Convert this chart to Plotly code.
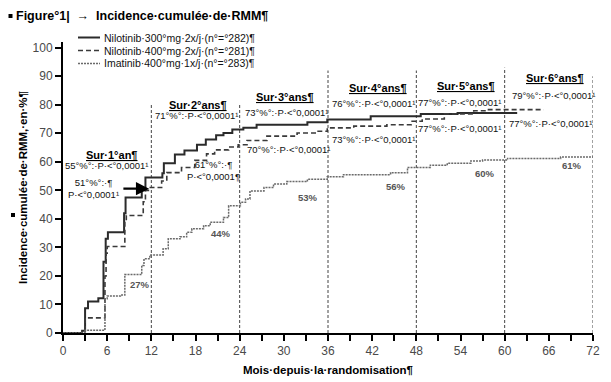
import plotly.graph_objects as go

# ---------------- data ----------------
series_names = [
    "Nilotinib·300°mg·2x/j·(n°=°282)¶",
    "Nilotinib·400°mg·2x/j·(n°=°281)¶",
    "Imatinib·400°mg·1x/j·(n°=°283)¶",
]

nil300_months = [0, 2.6, 3.0, 3.4, 4.8, 5.5, 5.8, 6.1, 8.3, 8.5, 10.7, 11.2, 13.5, 13.7, 15.2,
                 16.5, 18.2, 19.4, 20.8, 21.8, 23.0, 24.5, 26.3, 33.2, 35.9, 41.8, 48.6, 53.6, 61.7]
nil300_pct = [0, 0.8, 8.7, 11.0, 12.2, 25.0, 33.0, 35.3, 42.0, 47.5, 50.0, 54.5, 56.0, 59.5, 62.6,
              64.0, 66.0, 67.8, 69.3, 70.1, 71.3, 71.9, 73.0, 73.9, 74.8, 76.0, 76.8, 77.1, 77.1]

nil400_months = [0, 2.6, 3.0, 5.7, 5.85, 6.0, 8.4, 8.6, 10.9, 11.2, 11.6, 13.4, 14.1, 16.1, 17.9,
                 19.5, 20.6, 22.5, 23.8, 25.0, 27.7, 31.8, 34.5, 35.9, 39.5, 44.0, 47.3, 48.8, 51.8,
                 55.8, 57.8, 65.3]
nil400_pct = [0, 0.5, 5.3, 20.0, 28.0, 30.3, 39.5, 41.2, 46.0, 50.0, 51.0, 53.3, 56.2, 58.0, 60.5,
              62.8, 64.2, 65.2, 66.0, 67.5, 69.0, 70.1, 70.7, 71.9, 72.5, 73.0, 74.2, 75.0, 76.8,
              77.9, 78.3, 78.3]

ima_months = [0, 3.0, 5.7, 6.0, 7.8, 8.4, 10.7, 11.0, 11.8, 13.6, 14.3, 15.9, 16.8, 17.5, 19.1,
              20.0, 21.8, 22.5, 24.1, 24.8, 25.4, 27.3, 28.6, 30.4, 33.2, 35.9, 38.1, 44.5, 46.8,
              49.9, 52.2, 55.4, 57.0, 60.4, 67.6, 72.0]
ima_pct = [0, 1.0, 12.0, 13.0, 13.3, 20.5, 23.7, 26.0, 27.3, 29.5, 33.0, 33.7, 35.3, 36.5, 37.6,
           38.8, 40.5, 44.6, 45.8, 47.0, 49.8, 51.0, 52.2, 53.1, 53.9, 54.8, 55.5, 56.2, 58.0,
           58.8, 59.5, 60.3, 60.6, 61.2, 61.7, 61.7]

x_tick_vals = list(range(0, 73, 6))
x_tick_text = [str(v) for v in x_tick_vals]
y_tick_vals = list(range(0, 101, 10))

year_months = [12, 24, 36, 48, 60, 72]
year_line_tops = [80, 80, 92, 92, 93, 90]

# annotation texts
year_titles = ["Sur·1°an¶", "Sur·2°ans¶", "Sur·3°ans¶", "Sur·4°ans¶", "Sur·5°ans¶", "Sur·6°ans¶"]
year_title_pos = [(6.6, 62.5), (18.4, 80.0), (30.2, 82.8), (42.8, 86.0), (54.8, 86.7), (66.8, 89.5)]
upper_texts = ["55°%°:·P·<°0,0001¹", "71°%°:·P·<°0,0001¹", "73°%°:·P·<°0,0001¹",
               "76°%°:·P·<°0,0001¹", "77°%°:·P·<°0,0001¹", "79°%°:·P·<°0,0001¹"]
upper_pos = [(5.9, 58.8), (18.2, 76.1), (30.4, 77.4), (42.2, 80.5), (53.9, 80.9), (66.6, 83.2)]
lower_texts = ["51°%°:·¶<br>P·<°0,0001¹", "61°%°:·¶<br>P·<°0,0001¶", "70°%°:·P·<°0,0001¹",
               "73°%°:·P·<°0,0001¹", "77°%°:·P·<°0,0001¹", "77°%°:·P·<°0,0001¹"]
lower_pos = [(4.1, 50.5), (20.5, 56.9), (30.6, 64.3), (42.2, 67.8), (53.9, 71.8), (66.2, 73.5)]
ima_labels = ["27%", "44%", "53%", "56%", "60%", "61%"]
ima_label_pos = [(10.4, 17.1), (21.5, 35.0), (33.3, 47.5), (45.3, 51.5), (57.3, 55.9), (69.2, 58.7)]

FONT = "Liberation Sans, Arial, sans-serif"

fig = go.Figure()
styles = [
    dict(color="#2b2b2b", width=2, dash="solid"),
    dict(color="#3a3a3a", width=1.6, dash="5px,3px"),
    dict(color="#6a6a6a", width=1.5, dash="2px,1px"),
]
for name, xs, ys, st in zip(series_names,
                            [nil300_months, nil400_months, ima_months],
                            [nil300_pct, nil400_pct, ima_pct], styles):
    fig.add_trace(go.Scatter(x=xs, y=ys, mode="lines", line_shape="hv", name=name,
                             line=st, showlegend=False, hoverinfo="skip"))

shapes = []
for m, top in zip(year_months, year_line_tops):
    shapes.append(dict(type="line", xref="x", yref="y", x0=m, x1=m, y0=0, y1=top,
                       line=dict(color="#444", width=1, dash="3px,2px"), layer="below"))

# page body has an 8px margin: the figure is drawn 8px in from the window edge
OFF = 8
W, H = 611 - OFF, 382 - OFF
L, R, T, B = 63 - OFF, 18, 42 - OFF, 49
pw, ph = W - L - R, H - T - B
def px(xp):  # reference window pixel -> paper x
    return (xp - OFF - L) / pw
def py(yp):  # reference window pixel -> paper y
    return (H - B - (yp - OFF)) / ph

legend_rows = [37.5, 50.5, 63.5]
annotations = []
for name, st, yy in zip(series_names, styles, legend_rows):
    shapes.append(dict(type="line", xref="paper", yref="paper", x0=px(78), x1=px(100),
                       y0=py(yy), y1=py(yy), line=st))
    annotations.append(dict(xref="paper", yref="paper", x=px(102), y=py(yy), text=name,
                            showarrow=False, xanchor="left", yanchor="middle",
                            font=dict(family=FONT, size=10.5, color="#111")))

# little black squares (document marks)
shapes.append(dict(type="rect", xref="paper", yref="paper", x0=px(8.5), x1=px(12.5),
                   y0=py(18), y1=py(14), fillcolor="black", line=dict(width=0)))
shapes.append(dict(type="rect", xref="paper", yref="paper", x0=px(11), x1=px(15),
                   y0=py(217), y1=py(213), fillcolor="black", line=dict(width=0)))

annotations.append(dict(xref="paper", yref="paper", x=px(14), y=py(15.5),
                        text="<b>Figure°1|  →  Incidence·cumulée·de·RMM¶</b>",
                        showarrow=False, xanchor="left", yanchor="middle",
                        font=dict(family=FONT, size=12.5, color="#000")))

for t, (xx, yy) in zip(year_titles, year_title_pos):
    annotations.append(dict(x=xx, y=yy, text=f"<b><u>{t}</u></b>", showarrow=False,
                            font=dict(family=FONT, size=11, color="#000")))
for t, (xx, yy) in zip(upper_texts, upper_pos):
    annotations.append(dict(x=xx, y=yy, text=t, showarrow=False,
                            font=dict(family=FONT, size=9.5, color="#111")))
for t, (xx, yy) in zip(lower_texts, lower_pos):
    annotations.append(dict(x=xx, y=yy, text=t, showarrow=False,
                            font=dict(family=FONT, size=9.5, color="#111")))
for t, (xx, yy) in zip(ima_labels, ima_label_pos):
    annotations.append(dict(x=xx, y=yy, text=f"<b>{t}</b>", showarrow=False,
                            font=dict(family=FONT, size=9.5, color="#555")))

# arrow pointing to the 12-month dashed value
annotations.append(dict(x=11.7, y=50.6, ax=8.0, ay=50.6, axref="x", ayref="y", xref="x", yref="y",
                        text="", showarrow=True, arrowhead=2, arrowsize=1.2, arrowwidth=2.2,
                        arrowcolor="#000"))

fig.update_layout(
    width=W, height=H, margin=dict(l=L, r=R, t=T, b=B, autoexpand=False),
    plot_bgcolor="white", paper_bgcolor="white",
    shapes=shapes, annotations=annotations, showlegend=False,
    font=dict(family=FONT),
)
fig.update_xaxes(range=[0, 72], tickvals=x_tick_vals, ticktext=x_tick_text, automargin=False,
                 ticks="outside", ticklen=6, tickwidth=2, tickcolor="#000",
                 minor=dict(dtick=3, tick0=0, ticks="outside", ticklen=6, tickwidth=2, tickcolor="#000"),
                 showline=True, linecolor="#000", linewidth=2, showgrid=False, zeroline=False,
                 tickfont=dict(family=FONT, size=12, color="#4a4a4a"),
                 title=dict(text="<b>Mois·depuis·la·randomisation¶</b>",
                            font=dict(family=FONT, size=11.5, color="#000"), standoff=9))
fig.update_yaxes(range=[0, 102], tickvals=y_tick_vals, automargin=False,
                 ticks="outside", ticklen=6, tickwidth=2, tickcolor="#000",
                 showline=True, linecolor="#000", linewidth=2, showgrid=False, zeroline=False,
                 tickfont=dict(family=FONT, size=12, color="#4a4a4a"),
                 title=dict(text="<b>Incidence·cumulée·de·RMM,·en·%¶</b>",
                            font=dict(family=FONT, size=11.5, color="#000"), standoff=3))

fig.write_html("out.html")
